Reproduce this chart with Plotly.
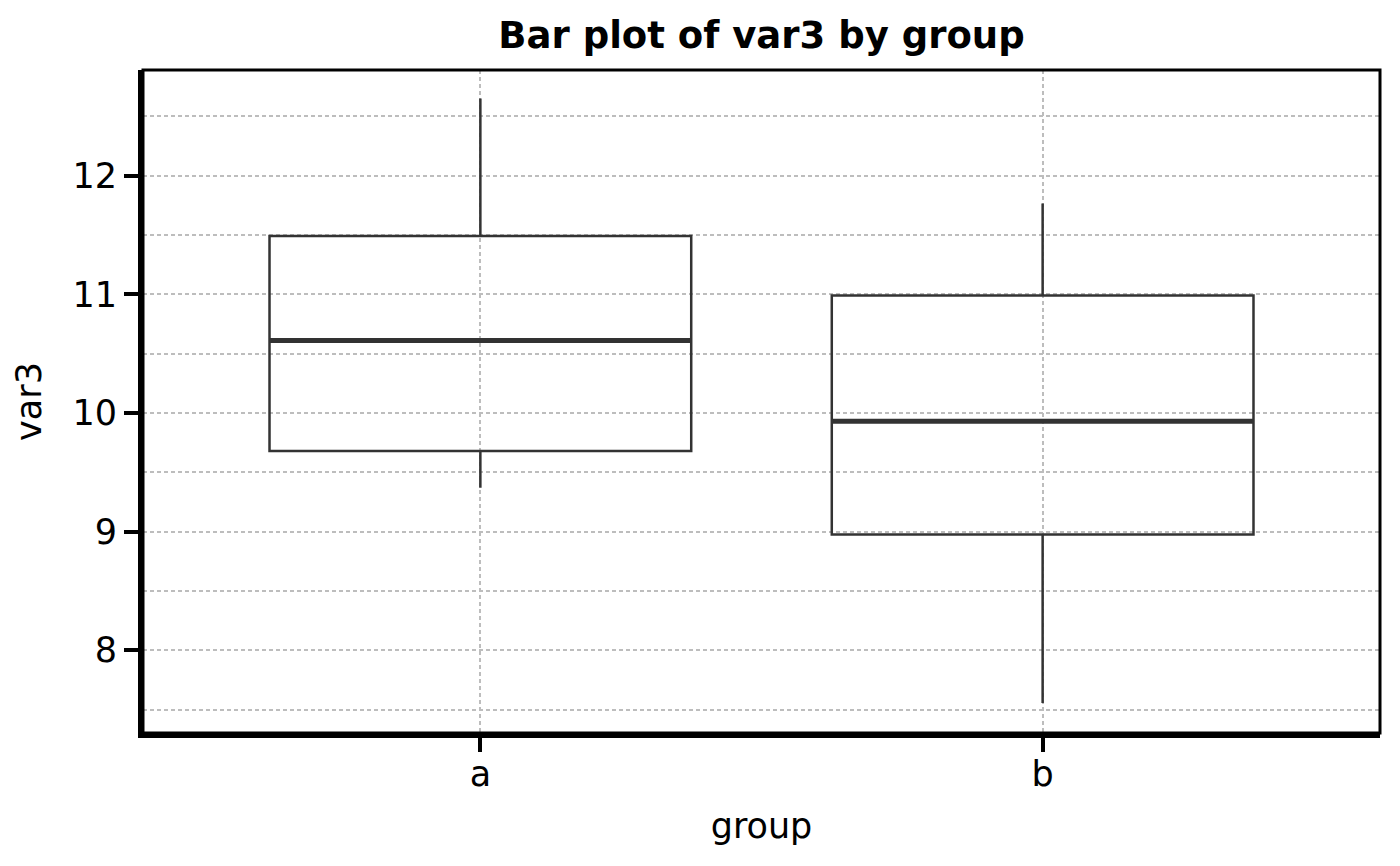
import plotly.graph_objects as go

groups = ["a", "b"]
q1 = [9.68, 8.975]
median = [10.61, 9.93]
q3 = [11.49, 10.99]
lower_whisker = [9.37, 7.555]
upper_whisker = [12.65, 11.765]

y_ticks = [8, 9, 10, 11, 12]

FONT = "DejaVu Sans"
LINE = "#333333"
GRID = "#bdbdbd"

fig = go.Figure()

# thick median lines (zero-height boxes at the median)
fig.add_trace(go.Box(
    x=groups, q1=median, median=median, q3=median,
    lowerfence=median, upperfence=median,
    width=0.75, whiskerwidth=0,
    line=dict(color=LINE, width=5),
    fillcolor="rgba(0,0,0,0)",
    boxpoints=False, showlegend=False, hoverinfo="skip",
))

fig.add_trace(go.Box(
    x=groups, q1=q1, median=median, q3=q3,
    lowerfence=lower_whisker, upperfence=upper_whisker,
    width=0.75, whiskerwidth=0,
    line=dict(color=LINE, width=2.5),
    fillcolor="rgba(0,0,0,0)",
    boxpoints=False, showlegend=False,
))

fig.update_layout(
    width=1400, height=866,
    margin=dict(l=135, r=28, t=62, b=141),
    paper_bgcolor="white", plot_bgcolor="white",
    font=dict(family=FONT, color="black", size=35),
    title=dict(text="<b>Bar plot of var3 by group</b>", x=0.5, xref="paper", xanchor="center",
               y=1 - 27 / 866, yanchor="middle", yref="container",
               font=dict(family=FONT, size=37, color="black")),
    boxmode="overlay",
    shapes=[dict(type="rect", xref="paper", yref="paper", x0=0, x1=1, y0=0, y1=1,
                 line=dict(color="black", width=3), layer="above")],
)

fig.update_xaxes(
    type="category", range=[-0.6, 1.6],
    showline=True, linecolor="black", linewidth=5,
    ticks="outside", ticklen=14, tickwidth=4, tickcolor="black",
    ticklabelstandoff=-8,
    showgrid=True, gridcolor=GRID, gridwidth=1.5, griddash="4px,3px",
    zeroline=False,
    title=dict(text="group", font=dict(size=35), standoff=22),
    tickfont=dict(size=35),
)
fig.update_yaxes(
    range=[7.3025, 12.89],
    tickvals=y_ticks, ticktext=[str(v) for v in y_ticks],
    showline=True, linecolor="black", linewidth=5,
    ticks="outside", ticklen=14, tickwidth=4, tickcolor="black",
    showgrid=True, gridcolor=GRID, gridwidth=1.5, griddash="4px,3px",
    minor=dict(dtick=0.5, tick0=0, showgrid=True, gridcolor=GRID, gridwidth=1.5,
               griddash="4px,3px", ticks=""),
    zeroline=False,
    title=dict(text="var3", font=dict(size=35), standoff=22),
    tickfont=dict(size=35),
)

fig.write_html("out.html")
